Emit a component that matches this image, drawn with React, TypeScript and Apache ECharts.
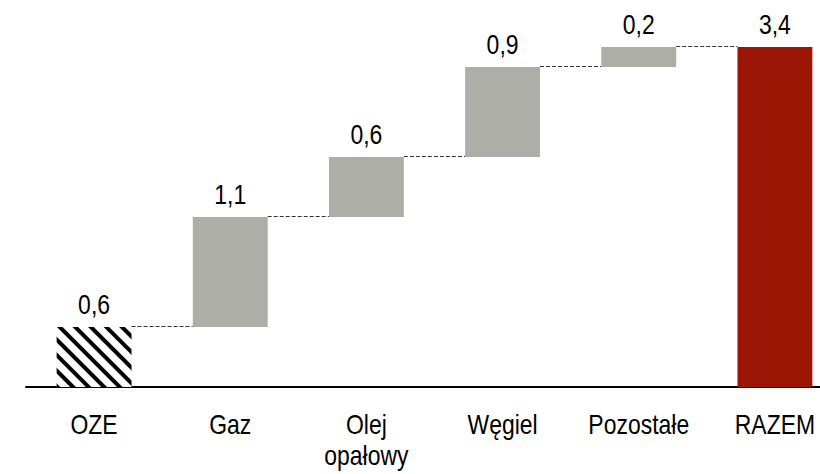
import React, { useEffect, useRef } from "react";
import * as echarts from "echarts";

const categories = ["OZE", "Gaz", "Olej\nopałowy", "Węgiel", "Pozostałe", "RAZEM"];
const changes = [0.6, 1.1, 0.6, 0.9, 0.2];
const total = 3.4;

const FONT = "'Liberation Sans', Arial, sans-serif";
const NARROW = 0.82;

export default function App() {
  const ref = useRef<HTMLDivElement>(null);
  useEffect(() => {
    if (!ref.current) return;
    const chart = echarts.init(ref.current, undefined, { renderer: "svg" });

    const bases: number[] = [];
    const ends: number[] = [];
    let acc = 0;
    changes.forEach((v) => {
      bases.push(acc);
      acc += v;
      ends.push(acc);
    });
    const allValues = [...changes, total];
    const baseData = [...bases, 0];
    const tops = allValues.map((v, i) => baseData[i] + v);
    const valueData: any[] = allValues.map((v, i) => {
      if (i === 0) {
        return {
          value: v,
          itemStyle: {
            color: "#ffffff",
            decal: {
              symbol: "rect",
              symbolSize: 1,
              symbolKeepAspect: false,
              color: "#000000",
              backgroundColor: "#ffffff",
              dashArrayX: [1, 0],
              dashArrayY: [4, 7],
              rotation: Math.PI / 4,
            },
          },
        };
      }
      if (i === changes.length) {
        return { value: v, itemStyle: { color: "#9B1604" } };
      }
      return { value: v, itemStyle: { color: "#AEAEA9" } };
    });
    const connectors = ends.map((e, i) => [i, e]);
    const valueLabels = allValues.map((v, i) => [i, tops[i], v]);
    const axisLabels = categories.map((c, i) => [i, 0]);

    chart.setOption({
      animation: false,
      grid: { left: 26, width: 817, top: 7, height: 380 },
      xAxis: {
        type: "category",
        data: categories,
        axisLine: { lineStyle: { color: "#000", width: 2 } },
        axisTick: { length: 8, lineStyle: { color: "#000", width: 2 } },
        axisLabel: { show: false },
      },
      yAxis: {
        type: "value",
        min: 0,
        max: 3.8,
        show: false,
        splitLine: { show: false },
      },
      series: [
        {
          type: "custom",
          z: 1,
          data: connectors,
          encode: { x: 0, y: 1 },
          renderItem: (params: any, api: any) => {
            const i = api.value(0);
            const v = api.value(1);
            const p1 = api.coord([i, v]);
            const p2 = api.coord([i + 1, v]);
            const hw = (api.size([1, 0])[0] * 0.55) / 2;
            const y = Math.round(p1[1]) - 0.5;
            return {
              type: "line",
              shape: { x1: p1[0] + hw, y1: y, x2: p2[0] - hw, y2: y },
              style: { stroke: "#333", lineWidth: 1, lineDash: [4, 2] },
            };
          },
        },
        {
          type: "bar",
          stack: "w",
          barWidth: "55%",
          data: baseData,
          itemStyle: { color: "transparent" },
          silent: true,
          z: 2,
        },
        {
          type: "bar",
          stack: "w",
          barWidth: "55%",
          data: valueData,
          z: 2,
        },
        {
          type: "custom",
          z: 5,
          clip: false,
          data: valueLabels,
          encode: { x: 0, y: 1 },
          renderItem: (params: any, api: any) => {
            const p = api.coord([api.value(0), api.value(1)]);
            return {
              type: "text",
              x: p[0],
              y: p[1] - 22.5,
              scaleX: NARROW,
              style: {
                text: String(api.value(2)).replace(".", ","),
                fontSize: 28,
                fontFamily: FONT,
                fill: "#000",
                align: "center",
                verticalAlign: "middle",
              },
            };
          },
        },
        {
          type: "custom",
          z: 5,
          clip: false,
          data: axisLabels,
          encode: { x: 0, y: 1 },
          renderItem: (params: any, api: any) => {
            const p = api.coord([api.value(0), api.value(1)]);
            return {
              type: "text",
              x: p[0],
              y: p[1] + 22,
              scaleX: NARROW,
              style: {
                text: categories[params.dataIndex],
                fontSize: 28,
                lineHeight: 31,
                fontFamily: FONT,
                fill: "#000",
                align: "center",
                verticalAlign: "top",
              },
            };
          },
        },
      ],
    });
    return () => chart.dispose();
  }, []);
  return (
    <div
      style={{
        position: "fixed",
        left: 0,
        top: 0,
        width: 820,
        height: 474,
        overflow: "hidden",
        background: "#fff",
      }}
    >
      <div ref={ref} style={{ width: 860, height: 474 }} />
    </div>
  );
}
